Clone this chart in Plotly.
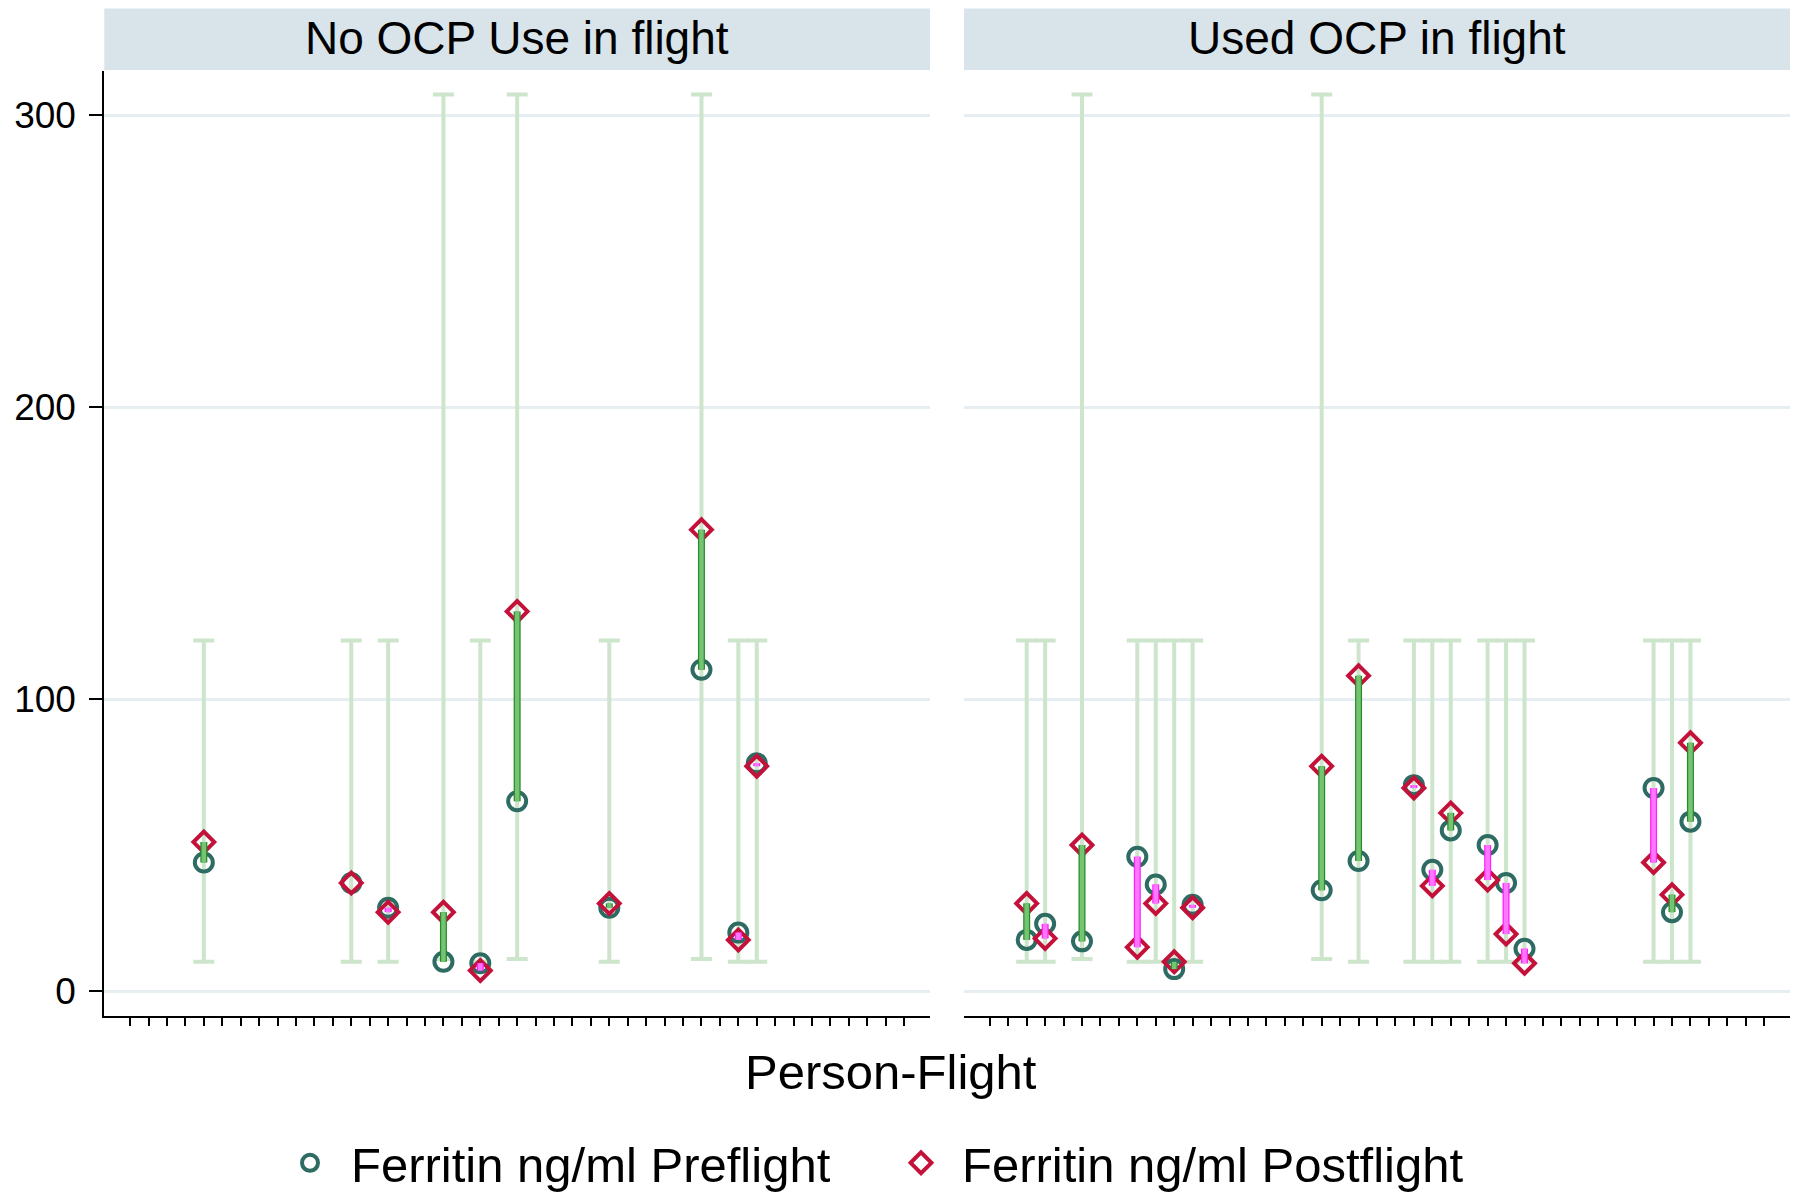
import plotly.graph_objects as go

# ---------------- data ----------------
panel_titles = ["No OCP Use in flight", "Used OCP in flight"]
legend_labels = ["Ferritin ng/ml Preflight", "Ferritin ng/ml Postflight"]
x_title = "Person-Flight"
person_flight_ticks = list(range(1, 44))
y_ticks = [0, 100, 200, 300]

flight_no_ocp = [5, 13, 15, 18, 20, 22, 27, 32, 34, 35]
pre_no_ocp = [44, 37, 28.5, 10, 9.5, 65, 28.5, 110, 20, 78]
post_no_ocp = [51, 37, 27, 27, 7, 130, 30, 158, 17.5, 77]
low_no_ocp = [10, 10, 10, 11, 10, 11, 10, 11, 10, 10]
high_no_ocp = [120, 120, 120, 307, 120, 307, 120, 307, 120, 120]

flight_ocp = [3, 4, 6, 9, 10, 11, 12, 19, 21, 24, 25, 26, 28, 29, 30, 37, 38, 39]
pre_ocp = [17.5, 23, 17, 46, 36.5, 7.5, 29.5, 34.5, 44.5, 70.5, 41.5, 55, 50, 37, 14.5, 69.5, 27, 58]
post_ocp = [30, 18, 50, 15, 30, 10, 28.5, 77, 108, 69.5, 36, 61, 38, 19.5, 9.5, 44, 33, 85]
low_ocp = [10, 10, 11, 10, 10, 10, 10, 11, 10, 10, 10, 10, 10, 10, 10, 10, 10, 10]
high_ocp = [120, 120, 307, 120, 120, 120, 120, 307, 120, 120, 120, 120, 120, 120, 120, 120, 120, 120]

# ---------------- style ----------------
W, H = 1785, 1184          # page has an 8px body margin; figure reaches the window bottom
OFF = 8
FONT = "Liberation Sans, Arial, Helvetica, sans-serif"
C_PRE = "#2e6b63"
C_POST = "#c4113a"
C_RANGE = "#cde5cb"
C_GRID = "#e6eef1"
C_STRIP = "#d8e4ea"
UP_OUT, UP_IN = "#2a8a2a", "#74c474"
DN_OUT, DN_IN = "#ff22ff", "#ff77ff"


def fx(px):  # page pixel -> paper x
    return (px - OFF) / W


def fy(py):  # page pixel -> paper y
    return 1 - (py - OFF) / H


X_RANGE = [-0.4, 44.4]
Y_RANGE = [-8.56, 315.07]
dom_left = [fx(104.3), fx(930)]
dom_right = [fx(964), fx(1790)]
dom_y = [fy(1016), fy(71)]

fig = go.Figure()


def seg(xs, a, b, sel):
    sx, sy = [], []
    for x, p, q in zip(xs, a, b):
        if sel(p, q):
            sx += [x, x, None]
            sy += [p, q, None]
    return sx, sy


def add_panel(xs, pre, post, lo, hi, xa, ya, legend_on):
    mid = [(l + h) / 2 for l, h in zip(lo, hi)]
    half = [(h - l) / 2 for l, h in zip(lo, hi)]
    fig.add_trace(go.Scatter(
        x=xs, y=mid, mode="markers", xaxis=xa, yaxis=ya,
        marker=dict(size=2, color="rgba(0,0,0,0)"),
        error_y=dict(type="data", array=half, symmetric=True,
                     color=C_RANGE, thickness=4, width=10.5),
        showlegend=False, hoverinfo="skip"))
    fig.add_trace(go.Scatter(
        x=xs, y=pre, mode="markers", xaxis=xa, yaxis=ya, name=legend_labels[0],
        marker=dict(symbol="circle-open", size=18, color=C_PRE, line=dict(width=4, color=C_PRE)),
        showlegend=legend_on, legend="legend"))
    fig.add_trace(go.Scatter(
        x=xs, y=post, mode="markers", xaxis=xa, yaxis=ya, name=legend_labels[1],
        marker=dict(symbol="diamond-open", size=16, color=C_POST, line=dict(width=4, color=C_POST)),
        showlegend=legend_on, legend="legend2"))
    for sel, co, ci in [(lambda p, q: q > p, UP_OUT, UP_IN), (lambda p, q: q < p, DN_OUT, DN_IN)]:
        sx, sy = seg(xs, pre, post, sel)
        fig.add_trace(go.Scatter(x=sx, y=sy, mode="lines", xaxis=xa, yaxis=ya,
                                 line=dict(color=co, width=7), showlegend=False, hoverinfo="skip"))
        fig.add_trace(go.Scatter(x=sx, y=sy, mode="lines", xaxis=xa, yaxis=ya,
                                 line=dict(color=ci, width=4.5), showlegend=False, hoverinfo="skip"))


add_panel(flight_no_ocp, pre_no_ocp, post_no_ocp, low_no_ocp, high_no_ocp, "x", "y", True)
add_panel(flight_ocp, pre_ocp, post_ocp, low_ocp, high_ocp, "x2", "y2", False)

xcommon = dict(range=X_RANGE, showline=True, linecolor="black", linewidth=2,
               ticks="outside", ticklen=8, tickwidth=2, tickcolor="black",
               tickvals=person_flight_ticks, showticklabels=False,
               showgrid=False, zeroline=False, fixedrange=True)

fig.update_layout(
    width=W, height=H,
    margin=dict(l=0, r=0, t=0, b=0, autoexpand=False),
    paper_bgcolor="white", plot_bgcolor="white",
    font=dict(family=FONT, color="black"),
    xaxis=dict(domain=dom_left, anchor="y", **xcommon),
    xaxis2=dict(domain=dom_right, anchor="y2", **xcommon),
    yaxis=dict(domain=dom_y, anchor="x", range=Y_RANGE, tickvals=y_ticks,
               ticks="outside", ticklen=13, tickwidth=2, tickcolor="black",
               showline=True, linecolor="black", linewidth=2,
               showgrid=True, gridcolor=C_GRID, gridwidth=3, zeroline=False,
               tickfont=dict(size=37, family=FONT, color="black"),
               ticklabelstandoff=6),
    yaxis2=dict(domain=dom_y, anchor="x2", range=Y_RANGE, tickvals=y_ticks,
                ticks="", showticklabels=False, showline=False,
                showgrid=True, gridcolor=C_GRID, gridwidth=3, zeroline=False),
    legend=dict(orientation="h", x=fx(269), xanchor="left", y=fy(1163), yanchor="middle",
                font=dict(size=49, family=FONT), itemwidth=72, bgcolor="rgba(0,0,0,0)"),
    legend2=dict(orientation="h", x=fx(880), xanchor="left", y=fy(1163), yanchor="middle",
                 font=dict(size=49, family=FONT), itemwidth=72, bgcolor="rgba(0,0,0,0)"),
    showlegend=True,
)

for dom, title in zip([dom_left, dom_right], panel_titles):
    fig.add_shape(type="rect", xref="paper", yref="paper",
                  x0=dom[0], x1=dom[1], y0=fy(70), y1=fy(8.5),
                  fillcolor=C_STRIP, line=dict(width=0), layer="below")
    fig.add_annotation(xref="paper", yref="paper", x=(dom[0] + dom[1]) / 2, y=fy(38),
                       text=title, showarrow=False, xanchor="center", yanchor="middle",
                       font=dict(size=46, family=FONT, color="black"))

fig.add_annotation(xref="paper", yref="paper", x=fx(890.7), y=fy(1072),
                   text=x_title, showarrow=False, xanchor="center", yanchor="middle",
                   font=dict(size=49, family=FONT, color="black"))

fig.write_html("out.html")
